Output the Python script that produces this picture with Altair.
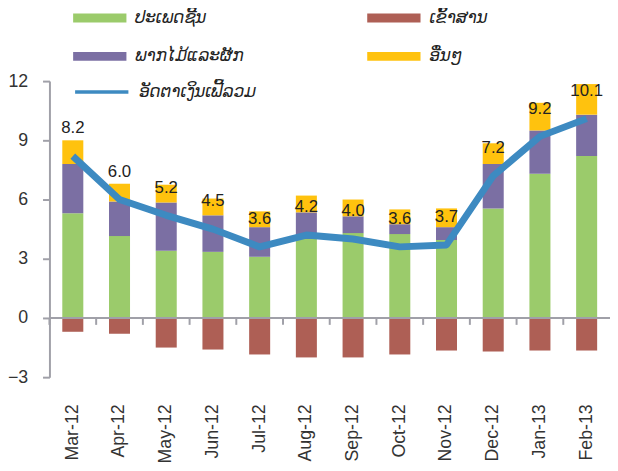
import altair as alt
import pandas as pd

months = ["Mar-12", "Apr-12", "May-12", "Jun-12", "Jul-12", "Aug-12",
          "Sep-12", "Oct-12", "Nov-12", "Dec-12", "Jan-13", "Feb-13"]
meat = [5.3, 4.15, 3.4, 3.35, 3.1, 4.0, 4.3, 4.25, 3.95, 5.55, 7.3, 8.2]
rice = [-0.7, -0.8, -1.5, -1.6, -1.85, -2.0, -2.0, -1.85, -1.65, -1.7, -1.65, -1.65]
fruitveg = [2.5, 1.75, 2.45, 1.85, 1.5, 1.35, 0.85, 0.5, 0.65, 2.25, 2.2, 2.1]
others = [1.2, 0.9, 0.9, 0.85, 0.8, 0.85, 0.85, 0.75, 0.95, 1.05, 1.4, 1.55]
total = [8.2, 6.0, 5.2, 4.5, 3.6, 4.2, 4.0, 3.6, 3.7, 7.2, 9.2, 10.1]
baseline = [0]

series_names = ["ປະເພດຊີ້ນ", "ພາກໄມ້ແລະຜັກ", "ເຂົ້າສານ", "ອື່ນໆ"]
series_values = [meat, fruitveg, rice, others]
stack_order = [0, 1, 3, 2]
series_colors = ["#9BCB6B", "#7B6FA3", "#AE5F55", "#FFC20E"]
line_name = "ອັດຕາເງິນເຟີ້ລວມ"
line_color = "#3D8AC1"
y_ticks = [-3, 0, 3, 6, 9, 12]

rows = []
for name, vals, o in zip(series_names, series_values, stack_order):
    for m, v in zip(months, vals):
        rows.append({"month": m, "series": name, "value": v, "ord": o})
bar_df = pd.DataFrame(rows)
line_df = pd.DataFrame({"month": months, "total": total, "lname": line_name,
                        "base": baseline * len(months)})

xscale = alt.Scale(domain=months, paddingInner=0.55, paddingOuter=0.275)
yscale = alt.Scale(domain=[-3, 12], nice=False)
font = "Liberation Sans"
grey = "#A0A0A8"
step = 568 / len(months)

bars = alt.Chart(bar_df).mark_bar().encode(
    x=alt.X("month:N", sort=months, scale=xscale,
            axis=alt.Axis(title=None, labelAngle=-90, domain=False, ticks=False,
                          labelFont=font, labelFontSize=18, labelColor="#333333",
                          labelPadding=27, orient="bottom")),
    y=alt.Y("value:Q", stack="zero", scale=yscale,
            axis=alt.Axis(title=None, values=y_ticks, grid=False, tickSize=7,
                          tickColor=grey, tickWidth=2, domainColor=grey,
                          domainWidth=2, labelFont=font, labelFontSize=18,
                          labelColor="#333333", labelPadding=15)),
    color=alt.Color("series:N",
                    scale=alt.Scale(domain=series_names, range=series_colors),
                    legend=alt.Legend(title=None, orient="none", legendX=33, legendY=-82,
                                      columns=2, columnPadding=125, rowPadding=13,
                                      symbolType="M-1.5,-0.25H1.5V0.25H-1.5Z",
                                      symbolSize=1296, symbolStrokeWidth=0,
                                      labelOffset=18, labelFont="DejaVu Sans",
                                      labelFontSize=17, labelFontStyle="italic",
                                      labelColor="#222222", labelLimit=300, padding=0)),
    order=alt.Order("ord:Q"),
)

zero_line = alt.Chart(line_df).mark_tick(color=grey, thickness=2, size=step + 0.6,
                                         orient="horizontal", opacity=1).encode(
    x=alt.X("month:N", sort=months),
    y=alt.Y("base:Q"),
)

zero_ticks = alt.Chart(line_df).mark_tick(color=grey, thickness=2, size=7,
                                          orient="vertical", opacity=1,
                                          xOffset=-step / 2, yOffset=3.5).encode(
    x=alt.X("month:N", sort=months),
    y=alt.Y("base:Q"),
)

line = alt.Chart(line_df).mark_line(strokeWidth=7, strokeJoin="round").encode(
    x=alt.X("month:N", sort=months),
    y=alt.Y("total:Q"),
    stroke=alt.Stroke("lname:N", scale=alt.Scale(domain=[line_name], range=[line_color]),
                      legend=alt.Legend(title=None, orient="none", legendX=33, legendY=-9,
                                        symbolType="M-1.5,0H1.5", symbolSize=1296,
                                        symbolStrokeWidth=3.4, labelOffset=18,
                                        labelFont="DejaVu Sans", labelFontSize=17,
                                        labelFontStyle="italic", labelColor="#222222",
                                        labelLimit=300, padding=0)),
)

labels = alt.Chart(line_df).mark_text(dy=-28, fontSize=17, font=font, color="#222222").encode(
    x=alt.X("month:N", sort=months),
    y=alt.Y("total:Q"),
    text=alt.Text("total:Q", format=".1f"),
)

chart = alt.layer(bars, zero_line, zero_ticks, line, labels).properties(
    width=568, height=300,
    autosize=alt.AutoSizeParams(type="none"),
    padding={"left": 42, "top": 71, "right": 0, "bottom": 92},
).configure_view(stroke=None)

chart.save("out.html", embed_options={"renderer": "svg", "actions": False})
